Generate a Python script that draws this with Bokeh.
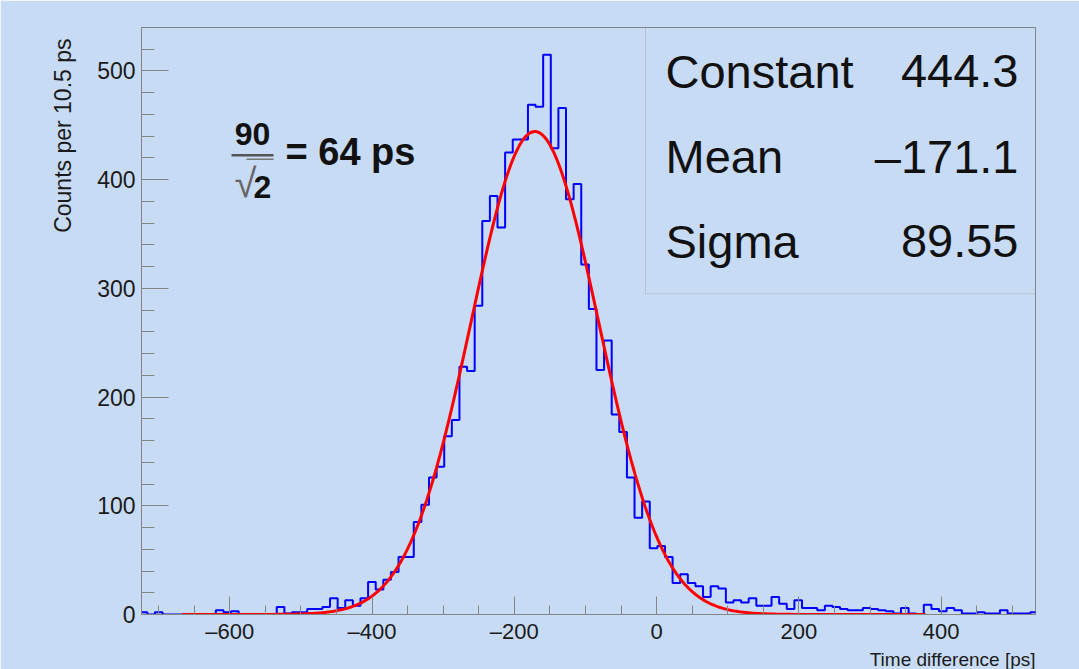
import numpy as np
from bokeh.plotting import figure
from bokeh.models import Label, BoxAnnotation, FixedTicker, Title
from bokeh.embed import file_html
from bokeh.resources import INLINE

# ---------------- data ----------------
bin_start = -726.5      # ps, left edge of first bin
bin_width = 10.7        # ps
counts = [
    2, 0, 2, 0, 0, 0, 0, 0, 0, 0,
    4, 2, 3, 0, 0, 0, 0, 0, 7, 1,
    2, 2, 5, 5, 7, 15, 6, 13, 8, 15,
    30, 23, 32, 39, 53, 53, 85, 101, 126, 136,
    164, 179, 228, 224, 284, 362, 385, 356, 425, 437,
    437, 469, 467, 515, 429, 466, 382, 396, 322, 281,
    225, 252, 184, 168, 126, 89, 104, 61, 63, 53,
    29, 37, 29, 26, 16, 26, 24, 11, 13, 11,
    15, 8, 8, 16, 10, 5, 13, 6, 6, 4,
    8, 7, 5, 4, 4, 6, 5, 4, 3, 1,
    6, 1, 0, 9, 5, 3, 6, 4, 1, 1,
    2, 1, 1, 4, 1, 1, 1, 2,
]
fit_names = ["Constant", "Mean", "Sigma"]
fit_values = [444.3, -171.1, 89.55]
fit_labels = ["444.3", "\u2013171.1", "89.55"]
fit_range = [-667.0, 378.0]

x_ticks = [-600, -400, -200, 0, 200, 400]
x_tick_labels = ["\u2013600", "\u2013400", "\u2013200", "0", "200", "400"]
y_ticks = [0, 100, 200, 300, 400, 500]
y_tick_labels = ["0", "100", "200", "300", "400", "500"]

x_title = "Time difference [ps]"
y_title = "Counts per 10.5 ps"
note_num = "90"
note_den = "2"
note_rest = "= 64 ps"

# ---------------- layout ----------------
W, H = 1079, 669
FL, FR, FT, FB = 141, 1035, 27, 620
XMIN, XMAX = -724.0, 532.6
YMIN, YMAX = 0.0, 540.0
BG = "#c8dbf5"
GRAY = "#858585"
FONT = "Liberation Sans"
BASE_SHIFT = 0.38   # em, correction for Bokeh's alphabetic baseline placement

def dx(px):
    return XMIN + (px - FL) / (FR - FL) * (XMAX - XMIN)

def dy(py):
    return YMAX - (py - FT) / (FB - FT) * (YMAX - YMIN)

def text_at(px, base_py, txt, size, align="left", bold=False, color="#111111", font=FONT):
    return Label(x=dx(px), y=dy(base_py - BASE_SHIFT * size), text=txt,
                 text_font=font, text_font_size=f"{size}px",
                 text_font_style="bold" if bold else "normal",
                 text_align=align, text_baseline="alphabetic", text_color=color)

p = figure(width=W, height=H, x_range=(XMIN, XMAX), y_range=(YMIN, YMAX),
           output_backend="svg", toolbar_location=None,
           min_border_left=FL, min_border_right=W - FR,
           min_border_top=FT, min_border_bottom=H - FB)
p.background_fill_color = BG
p.border_fill_color = BG
p.outline_line_color = GRAY
p.outline_line_width = 1
p.grid.visible = False

xminor = [v for v in range(-700, 551, 50) if v not in x_ticks]
yminor = [v for v in range(0, 541, 20) if v not in y_ticks]
p.xaxis.ticker = FixedTicker(ticks=x_ticks, minor_ticks=xminor)
p.yaxis.ticker = FixedTicker(ticks=y_ticks, minor_ticks=yminor)
p.xaxis.major_label_overrides = dict(zip(x_ticks, x_tick_labels))
p.yaxis.major_label_overrides = dict(zip(y_ticks, y_tick_labels))

for ax in (p.xaxis[0], p.yaxis[0]):
    ax.axis_line_color = GRAY
    ax.major_tick_line_color = GRAY
    ax.minor_tick_line_color = GRAY
    ax.major_tick_out = 0
    ax.minor_tick_out = 0
    ax.major_label_text_font = FONT
    ax.major_label_text_font_size = "23px"
    ax.major_label_text_color = "#1a1a1a"
p.xaxis.major_label_text_font_size = "22px"
p.xaxis.major_label_text_line_height = 0.9
p.xaxis.major_tick_in = 18
p.xaxis.minor_tick_in = 9
p.yaxis.major_tick_in = 27
p.yaxis.minor_tick_in = 13
p.xaxis.major_label_standoff = 4
p.yaxis.major_label_standoff = 6

# axis titles as side-panel titles (ROOT style: right / top aligned)
p.add_layout(Title(text=x_title, align="right", text_font=FONT, text_font_size="19px",
                   text_font_style="normal", text_color="#1a1a1a", standoff=0,
                   text_line_height=0.9), "below")
p.add_layout(Title(text=y_title, align="right", text_font=FONT, text_font_size="23px",
                   text_font_style="normal", text_color="#1a1a1a", standoff=37,
                   offset=11), "left")

# histogram
edges = bin_start + bin_width * np.arange(len(counts) + 1)
p.step(edges, counts + [counts[-1]], mode="after", line_color="#0000ff", line_width=2)

# gaussian fit from the displayed parameters
xs = np.linspace(fit_range[0], fit_range[1], 600)
A, mu, sig = fit_values
p.line(xs, A * np.exp(-0.5 * ((xs - mu) / sig) ** 2), line_color="#ff0000", line_width=3)

# stats box
p.add_layout(BoxAnnotation(left=dx(645), right=XMAX, bottom=dy(296), top=YMAX,
                           fill_alpha=0, line_color=GRAY, line_width=1))
for i, (nm, lab) in enumerate(zip(fit_names, fit_labels)):
    by = 89 + i * 86
    p.add_layout(text_at(665, by, nm, 47))
    p.add_layout(text_at(1018, by, lab, 47, align="right"))

# annotation 90/sqrt(2) = 64 ps
p.add_layout(text_at(252, 147, note_num, 32, align="center", bold=True))
p.segment(x0=[dx(231)], y0=[dy(156)], x1=[dx(273)], y1=[dy(156)],
          line_color="#555555", line_width=2.5)
p.add_layout(text_at(234, 199, "\u221a", 40, color="#666666"))
p.segment(x0=[dx(246)], y0=[dy(160)], x1=[dx(273)], y1=[dy(160)],
          line_color="#777777", line_width=1.5)
p.add_layout(text_at(262, 200, note_den, 32, align="center", bold=True))
p.add_layout(text_at(285, 167, note_rest, 38, bold=True))

open("out.html", "w").write(file_html(p, INLINE))
